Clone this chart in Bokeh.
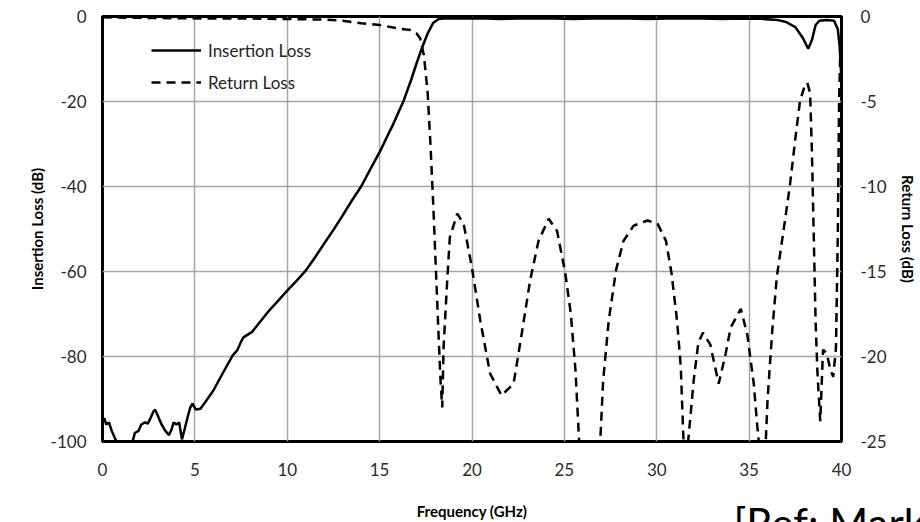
from bokeh.plotting import figure
from bokeh.models import (Range1d, LinearAxis, FixedTicker, Legend, LegendItem, Title,
                          CustomJSTickFormatter)
from bokeh.embed import file_html
from bokeh.resources import INLINE

# ---------------- data ----------------
X_TICKS = [0, 5, 10, 15, 20, 25, 30, 35, 40]
IL_TICKS = [0, -20, -40, -60, -80, -100]
RL_TICKS = [0, -5, -10, -15, -20, -25]

IL_FREQ = [0.0, 0.1, 0.2, 0.35, 0.5, 0.7, 0.9, 1.3, 1.6, 1.75, 1.95, 2.1, 2.3, 2.45,
           2.6, 2.75, 2.85, 3.0, 3.2, 3.4, 3.6, 3.75, 3.85, 4.0, 4.15, 4.3, 4.45, 4.6,
           4.75, 4.87, 5.05, 5.3, 5.6, 6.0, 6.5, 7.04, 7.3, 7.5, 7.63, 8.1, 8.5, 9.0,
           9.5, 10.0, 10.5, 11.0, 11.5, 12.0, 12.5, 12.9, 13.5, 14.0, 14.5, 15.05, 15.4,
           15.75, 16.3, 16.7, 17.0, 17.3, 17.6, 17.9, 18.2, 18.6, 19.5, 20.5, 21.5, 22.5,
           23.5, 24.5, 25.5, 26.5, 27.5, 28.5, 29.5, 30.5, 31.5, 32.5, 33.5, 34.5, 35.5,
           36.5, 37.0, 37.5, 37.9, 38.2, 38.4, 38.6, 38.8, 39.2, 39.6, 39.8, 39.9, 40.0]
IL_DB = [-95.5, -94.5, -96.0, -95.5, -97.5, -99.5, -101.0, -102.0, -100.5, -98.0, -97.5,
         -96.0, -95.5, -95.8, -94.5, -93.0, -92.5, -94.0, -96.0, -97.5, -98.5, -97.0,
         -95.5, -96.0, -95.5, -99.5, -97.0, -94.4, -92.0, -91.1, -92.5, -92.3, -90.5,
         -88.0, -84.0, -79.8, -78.5, -76.5, -75.5, -74.2, -72.0, -69.3, -66.9, -64.5,
         -62.2, -59.8, -56.7, -53.4, -50.2, -47.5, -43.3, -40.0, -35.9, -31.5, -28.3,
         -25.2, -19.8, -15.0, -11.0, -7.3, -4.0, -1.5, -0.6, -0.4, -0.5, -0.4, -0.6,
         -0.5, -0.4, -0.5, -0.6, -0.5, -0.4, -0.5, -0.6, -0.5, -0.4, -0.5, -0.6, -0.5,
         -0.5, -0.8, -1.3, -2.5, -5.0, -7.6, -5.5, -2.0, -1.0, -0.8, -1.0, -3.0, -7.0, -15.0]

RL_FREQ = [0.0, 2.0, 4.0, 6.0, 8.0, 10.0, 12.0, 13.0, 14.0, 15.0, 16.0, 16.7, 17.0, 17.2,
           17.4, 17.6, 17.75, 17.9, 18.05, 18.2, 18.3, 18.39, 18.46, 18.66, 18.8, 19.2,
           19.55, 20.0, 20.45, 20.98, 21.6, 22.25, 22.7, 23.15, 23.6, 24.15, 24.6, 25.05,
           25.35, 25.6, 25.8, 26.2, 26.6, 26.95, 27.1, 27.4, 27.8, 28.2, 28.75, 29.5,
           30.05, 30.5, 30.8, 31.1, 31.3, 31.45, 31.55, 31.7, 32.0, 32.25, 32.5, 32.9,
           33.35, 33.7, 34.0, 34.55, 34.9, 35.25, 35.45, 35.7, 35.9, 36.0, 36.25, 36.5,
           36.9, 37.2, 37.5, 37.75, 38.0, 38.15, 38.3, 38.4, 38.5, 38.6, 38.7, 38.85,
           39.0, 39.2, 39.4, 39.55, 39.7, 39.8, 39.87, 39.95]
RL_DB = [-0.05, -0.08, -0.1, -0.12, -0.12, -0.15, -0.18, -0.25, -0.4, -0.5, -0.7, -0.8,
         -1.0, -1.3, -2.3, -4.5, -7.5, -11.0, -15.0, -19.0, -21.5, -23.0, -19.5, -15.5,
         -13.0, -11.6, -12.2, -14.8, -17.9, -21.0, -22.3, -21.6, -18.6, -15.5, -13.2,
         -11.9, -12.6, -15.1, -17.5, -20.8, -25.0, -28.0, -28.0, -24.8, -21.4, -17.9,
         -14.9, -13.2, -12.3, -12.0, -12.2, -13.2, -15.1, -17.9, -20.6, -25.0, -26.5,
         -25.0, -21.4, -19.2, -18.6, -19.3, -21.6, -20.0, -18.3, -17.2, -18.7, -21.6,
         -24.2, -27.0, -25.0, -22.5, -18.5, -15.3, -12.3, -10.0, -7.2, -5.0, -4.1, -3.9,
         -4.5, -8.0, -13.0, -18.0, -21.0, -23.8, -19.6, -19.8, -20.8, -21.2, -19.5,
         -12.8, -5.0, -1.5]

SERIES_NAMES = ["Insertion Loss", "Return Loss"]
X_LABEL = "Frequency (GHz)"
IL_LABEL = "Insertion Loss (dB)"
RL_LABEL = "Return Loss (dB)"
REF_TEXT = "[Ref: Mark"

FONT = "Lato"
TICK_COLOR = "#2b2b2b"
GRID_COLOR = "#a6a6a6"

p = figure(width=920, height=522, output_backend="svg", toolbar_location=None,
           x_range=Range1d(0, 40), y_range=Range1d(-100, 0),
           min_border_left=102, min_border_right=79, min_border_top=16, min_border_bottom=81)
p.extra_y_ranges = {"rl": Range1d(-25, 0)}
p.background_fill_color = "white"
p.border_fill_color = "white"
p.outline_line_color = "black"
p.outline_line_width = 3

# grids
p.xgrid.ticker = FixedTicker(ticks=X_TICKS)
p.ygrid.ticker = FixedTicker(ticks=IL_TICKS)
for g in (p.xgrid, p.ygrid):
    g.grid_line_color = GRID_COLOR
    g.grid_line_width = 1.5

plain = CustomJSTickFormatter(code="return tick.toString();")

def style_axis(ax, label_standoff, title_standoff):
    ax.formatter = plain
    ax.axis_line_color = None
    ax.major_tick_line_color = None
    ax.minor_tick_line_color = None
    ax.major_tick_out = 0
    ax.major_tick_in = 0
    ax.minor_tick_out = 0
    ax.minor_tick_in = 0
    ax.major_label_text_font = FONT
    ax.major_label_text_font_size = "17px"
    ax.major_label_text_color = TICK_COLOR
    ax.major_label_standoff = label_standoff
    ax.axis_label_text_font = FONT
    ax.axis_label_text_font_size = "15px"
    ax.axis_label_text_font_style = "bold"
    ax.axis_label_text_color = "black"
    ax.axis_label_standoff = title_standoff

xax = p.xaxis[0]
xax.ticker = FixedTicker(ticks=X_TICKS)
xax.axis_label = X_LABEL
style_axis(xax, 21, 23)

yax = p.yaxis[0]
yax.ticker = FixedTicker(ticks=IL_TICKS)
yax.axis_label = IL_LABEL
style_axis(yax, 16, 2)

rax = LinearAxis(y_range_name="rl", ticker=FixedTicker(ticks=RL_TICKS), axis_label=RL_LABEL)
style_axis(rax, 19, 9)
p.add_layout(rax, "right")

il = p.line(IL_FREQ, IL_DB, line_color="black", line_width=2.5)
rl = p.line(RL_FREQ, RL_DB, y_range_name="rl", line_color="black", line_width=2.5,
            line_dash="9 6")

legend = Legend(items=[LegendItem(label=SERIES_NAMES[0], renderers=[il]),
                       LegendItem(label=SERIES_NAMES[1], renderers=[rl])],
                location=(49, 343), padding=0, margin=0, spacing=0,
                glyph_width=50, glyph_height=32, label_standoff=7,
                border_line_color=None, background_fill_alpha=0,
                label_text_font=FONT, label_text_font_size="17px",
                label_text_color="#262626")
p.add_layout(legend)

# caption of the slide at the bottom right (a side-panel title, so it is not clipped
# by the frame); like the reference, the window's bottom edge cuts it
ref = Title(text=REF_TEXT, align="left", offset=631, vertical_align="middle",
            standoff=-54, text_font=FONT, text_font_size="42px",
            text_font_style="normal", text_color="black")
p.add_layout(ref, "below")

open("out.html", "w").write(file_html(p, INLINE))
